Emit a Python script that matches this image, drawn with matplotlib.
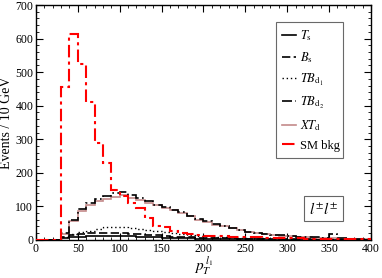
import matplotlib
matplotlib.use("Agg")
from matplotlib import pyplot as plt
from matplotlib.ticker import MultipleLocator

plt.rcParams['font.family'] = ['Liberation Serif', 'DejaVu Serif']
plt.rcParams['mathtext.fontset'] = 'stix'

# pT bins, 10 GeV wide
edges = list(range(0, 410, 10))

t_s = [0, 0, 0, 5, 8, 10, 12, 13, 13, 13, 12, 11, 10, 9, 8, 7, 6, 5, 5, 4,
       4, 3, 3, 3, 2, 2, 2, 2, 1, 1, 1, 1, 1, 1, 1, 1, 1, 0, 0, 0]
b_s = [0, 0, 0, 8, 14, 18, 20, 22, 22, 22, 20, 18, 17, 15, 14, 12, 10, 9, 8, 7,
       6, 6, 5, 5, 4, 4, 3, 3, 3, 2, 2, 2, 2, 1, 1, 1, 1, 1, 1, 1]
tb_d1 = [0, 0, 0, 10, 18, 24, 28, 32, 38, 38, 37, 35, 33, 30, 27, 23, 20, 18, 15, 13,
         11, 10, 9, 8, 7, 6, 5, 5, 4, 4, 3, 3, 3, 2, 2, 2, 2, 1, 1, 1]
tb_d2 = [0, 0, 0, 20, 60, 92, 110, 122, 132, 140, 142, 135, 125, 115, 105, 98, 90, 82, 72, 62,
         55, 48, 42, 36, 31, 25, 22, 18, 16, 14, 12, 10, 9, 8, 7, 18, 5, 4, 3, 3]
xt_d = [0, 0, 0, 18, 55, 85, 105, 115, 122, 128, 133, 125, 118, 110, 105, 95, 88, 80, 70, 58,
        52, 45, 40, 35, 30, 25, 22, 18, 15, 13, 11, 9, 8, 7, 6, 5, 4, 4, 3, 3]
sm_bkg = [0, 0, 0, 455, 615, 525, 410, 290, 230, 150, 130, 110, 95, 65, 40, 38, 28, 22, 18, 15,
          13, 12, 11, 10, 9, 8, 8, 7, 6, 6, 5, 5, 4, 4, 3, 3, 3, 2, 2, 2]

fig = plt.figure(figsize=(3.82, 2.78), dpi=100)
ax = fig.add_axes([0.0942, 0.137, 0.877, 0.845])

ax.stairs(xt_d, edges, color='#c48a8a', lw=1.2, label=r'$XT_{\rm d}$', zorder=2)
ax.stairs(t_s, edges, color='black', lw=1.2, label=r'$T_{\rm s}$', zorder=3)
ax.stairs(b_s, edges, color='black', lw=1.2, ls=(0, (5, 2)), label=r'$B_{\rm s}$', zorder=3)
ax.stairs(tb_d1, edges, color='black', lw=1.0, ls=(0, (1, 2)), label=r'$TB_{\rm d_1}$', zorder=3)
ax.stairs(tb_d2, edges, color='black', lw=1.2, ls=(0, (6, 2, 1, 2)), label=r'$TB_{\rm d_2}$', zorder=3)
ax.stairs(sm_bkg, edges, color='red', lw=1.5, ls=(0, (6, 2, 1.5, 2)), label='SM bkg', zorder=4)

ax.set_xlim(0, 400)
ax.set_ylim(0, 700)
ax.xaxis.set_major_locator(MultipleLocator(50))
ax.xaxis.set_minor_locator(MultipleLocator(10))
ax.yaxis.set_major_locator(MultipleLocator(100))
ax.yaxis.set_minor_locator(MultipleLocator(20))
ax.tick_params(which='both', direction='in', top=True, right=True, labelsize=8.5, pad=2)
ax.tick_params(which='major', length=5)
ax.tick_params(which='minor', length=2.5)
for s in ax.spines.values():
    s.set_linewidth(1.0)

ax.set_ylabel('Events / 10 GeV', fontsize=10)
ax.yaxis.set_label_coords(-0.068, 0.5)
ax.set_xlabel(r'$p_T^{\,l_1}$', fontsize=11, labelpad=0)

h, l = ax.get_legend_handles_labels()
order = [1, 2, 3, 4, 0, 5]
leg = ax.legend([h[i] for i in order], [l[i] for i in order], loc='upper left',
                bbox_to_anchor=(0.716, 0.374, 0.2, 0.554), mode='expand',
                fontsize=9, frameon=True, fancybox=False,
                edgecolor='#444444', handlelength=1.15, labelspacing=0.56, borderpad=0.5,
                handletextpad=0.3, borderaxespad=0)
leg.get_frame().set_linewidth(0.8)

ax.text(0.858, 0.132, r'$l^{\pm}l^{\pm}$', transform=ax.transAxes, fontsize=11,
        ha='center', va='center',
        bbox=dict(boxstyle='square,pad=0.3', fc='white', ec='#666666', lw=0.8))

fig.savefig('out.png', dpi=100)
